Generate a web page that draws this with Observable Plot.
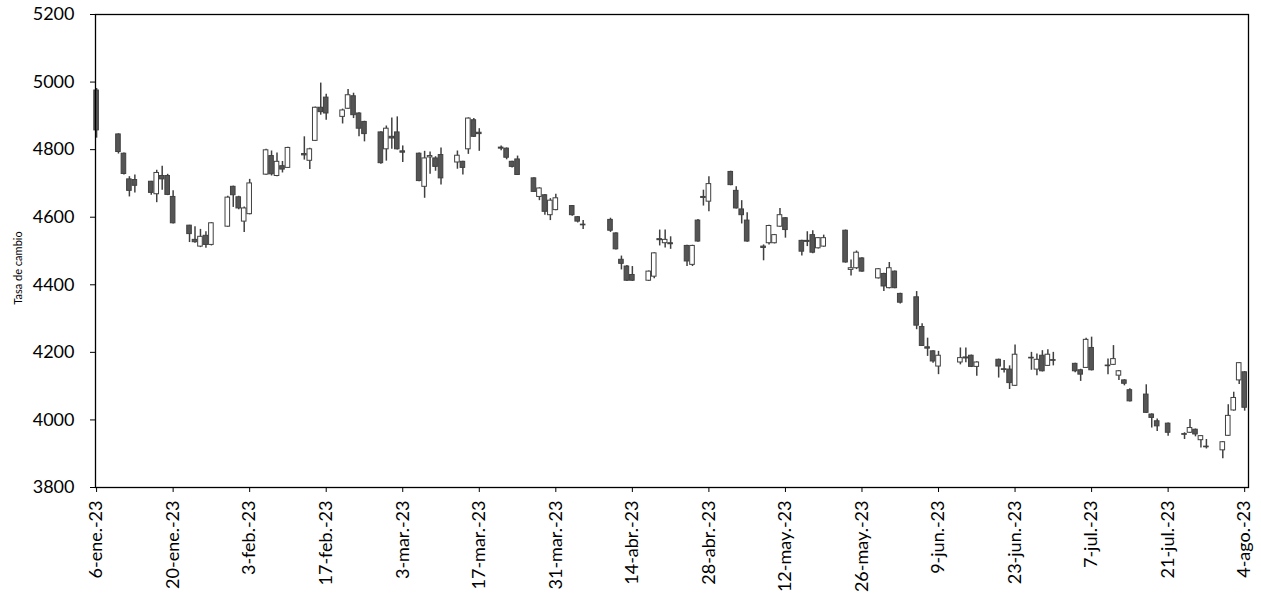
<!DOCTYPE html>
<html>
<head>
<meta charset="utf-8">
<script src="https://cdn.jsdelivr.net/npm/d3@7"></script>
<script src="https://cdn.jsdelivr.net/npm/@observablehq/plot@0.6"></script>
<style>
  html, body { margin: 0; padding: 0; background: #fff; }
  svg { display: block; }
</style>
</head>
<body>
<div id="chart"></div>
<script>
const dates = [
  "2023-01-06","2023-01-10","2023-01-11","2023-01-12","2023-01-13","2023-01-16","2023-01-17","2023-01-18","2023-01-19","2023-01-20",
  "2023-01-23","2023-01-24","2023-01-25","2023-01-26","2023-01-27","2023-01-30","2023-01-31",
  "2023-02-01","2023-02-02","2023-02-03","2023-02-06","2023-02-07","2023-02-08","2023-02-09","2023-02-10",
  "2023-02-13","2023-02-14","2023-02-15","2023-02-16","2023-02-17","2023-02-20","2023-02-21","2023-02-22","2023-02-23","2023-02-24",
  "2023-02-27","2023-02-28","2023-03-01","2023-03-02","2023-03-03","2023-03-06","2023-03-07","2023-03-08","2023-03-09","2023-03-10",
  "2023-03-13","2023-03-14","2023-03-15","2023-03-16","2023-03-17","2023-03-21","2023-03-22","2023-03-23","2023-03-24",
  "2023-03-27","2023-03-28","2023-03-29","2023-03-30","2023-03-31","2023-04-03","2023-04-04","2023-04-05",
  "2023-04-10","2023-04-11","2023-04-12","2023-04-13","2023-04-14","2023-04-17","2023-04-18","2023-04-19","2023-04-20","2023-04-21",
  "2023-04-24","2023-04-25","2023-04-26","2023-04-27","2023-04-28","2023-05-02","2023-05-03","2023-05-04","2023-05-05",
  "2023-05-08","2023-05-09","2023-05-10","2023-05-11","2023-05-12","2023-05-15","2023-05-16","2023-05-17","2023-05-18","2023-05-19",
  "2023-05-23","2023-05-24","2023-05-25","2023-05-26","2023-05-29","2023-05-30","2023-05-31","2023-06-01","2023-06-02",
  "2023-06-05","2023-06-06","2023-06-07","2023-06-08","2023-06-09","2023-06-13","2023-06-14","2023-06-15","2023-06-16",
  "2023-06-20","2023-06-21","2023-06-22","2023-06-23","2023-06-26","2023-06-27","2023-06-28","2023-06-29","2023-06-30",
  "2023-07-04","2023-07-05","2023-07-06","2023-07-07","2023-07-10","2023-07-11","2023-07-12","2023-07-13","2023-07-14",
  "2023-07-17","2023-07-18","2023-07-19","2023-07-21","2023-07-24","2023-07-25","2023-07-26","2023-07-27","2023-07-28",
  "2023-07-31","2023-08-01","2023-08-02","2023-08-03","2023-08-04"
];
const open = [
  4975,4845,4788,4712,4710,4705,4668,4722,4722,4660,
  4575,4533,4513,4545,4518,4572,4690,
  4659,4587,4609,4726,4781,4722,4751,4746,
  4787,4767,4826,4924,4954,4897,4921,4958,4907,4882,
  4851,4801,4838,4851,4795,4788,4690,4777,4774,4784,
  4762,4764,4801,4887,4850,4806,4803,4764,4771,
  4715,4660,4665,4606,4621,4633,4600,4578,
  4592,4552,4474,4454,4429,4412,4424,4535,4523,4523,
  4515,4459,4590,4657,4646,4734,4678,4623,4590,
  4513,4523,4523,4572,4597,4530,4530,4547,4508,4513,
  4560,4444,4449,4478,4419,4432,4390,4439,4373,
  4363,4275,4215,4203,4158,4170,4185,4190,4157,
  4178,4150,4149,4101,4184,4149,4190,4160,4177,
  4166,4147,4154,4213,4159,4163,4131,4117,4088,
  4075,4016,3996,3989,3958,3962,3971,3940,3921,
  3910,3953,4028,4117,4141
];
const high = [
  4981,4847,4790,4720,4725,4706,4739,4751,4727,4678,
  4576,4572,4564,4557,4584,4662,4692,
  4662,4630,4712,4801,4796,4790,4765,4807,
  4838,4804,4926,4997,4964,4920,4978,4967,4909,4884,
  4853,4870,4894,4897,4811,4790,4795,4793,4779,4805,
  4796,4766,4894,4892,4862,4811,4805,4766,4781,
  4717,4687,4667,4655,4668,4635,4602,4590,
  4597,4554,4485,4457,4454,4441,4495,4562,4562,4542,
  4517,4517,4593,4680,4720,4736,4690,4649,4613,
  4518,4576,4549,4626,4599,4532,4557,4560,4540,4547,
  4562,4473,4500,4480,4448,4434,4466,4441,4375,
  4380,4285,4242,4205,4203,4213,4213,4192,4172,
  4180,4176,4160,4222,4200,4195,4205,4208,4200,
  4168,4150,4242,4245,4180,4220,4146,4119,4092,
  4104,4018,4003,3991,3962,4001,3973,3954,3942,
  3936,4045,4082,4170,4143
];
const low = [
  4834,4787,4725,4660,4672,4665,4643,4680,4664,4580,
  4525,4523,4510,4508,4515,4570,4629,
  4622,4555,4607,4724,4722,4720,4731,4744,
  4769,4741,4824,4902,4887,4876,4919,4892,4838,4823,
  4757,4766,4801,4799,4762,4705,4656,4727,4736,4695,
  4742,4725,4786,4836,4795,4797,4770,4746,4724,
  4673,4649,4606,4590,4619,4603,4583,4564,
  4555,4503,4444,4410,4410,4410,4418,4515,4509,4505,
  4454,4454,4526,4633,4616,4693,4624,4580,4526,
  4471,4518,4521,4570,4538,4485,4513,4492,4506,4511,
  4464,4426,4445,4437,4417,4380,4388,4388,4343,
  4267,4217,4188,4168,4134,4163,4169,4155,4129,
  4124,4139,4090,4099,4147,4131,4142,4158,4160,
  4140,4114,4152,4145,4134,4161,4117,4101,4053,
  4019,3976,3966,3952,3942,3960,3950,3917,3914,
  3885,3951,4026,4105,4026
];
const close = [
  4857,4793,4728,4678,4693,4672,4731,4712,4666,4582,
  4550,4526,4542,4518,4582,4658,4665,
  4626,4626,4700,4798,4727,4764,4741,4805,
  4783,4801,4924,4911,4907,4916,4961,4902,4862,4846,
  4760,4862,4833,4801,4791,4707,4774,4781,4749,4715,
  4782,4746,4892,4838,4846,4803,4776,4749,4725,
  4675,4685,4616,4649,4656,4606,4587,4576,
  4560,4505,4462,4412,4412,4439,4493,4532,4533,4520,
  4469,4515,4528,4660,4698,4695,4626,4606,4528,
  4509,4574,4547,4606,4562,4498,4527,4495,4538,4538,
  4466,4449,4495,4439,4446,4395,4449,4390,4347,
  4279,4219,4211,4173,4190,4183,4182,4157,4170,
  4158,4148,4109,4193,4182,4178,4144,4193,4175,
  4144,4134,4237,4147,4161,4180,4144,4107,4055,
  4021,4006,3981,3962,3956,3976,3957,3952,3919,
  3934,4012,4065,4168,4036
];
const xTickDates = ["2023-01-06","2023-01-20","2023-02-03","2023-02-17","2023-03-03","2023-03-17","2023-03-31","2023-04-14",
  "2023-04-28","2023-05-12","2023-05-26","2023-06-09","2023-06-23","2023-07-07","2023-07-21","2023-08-04"];
const xTickLabels = ["6-ene.-23","20-ene.-23","3-feb.-23","17-feb.-23","3-mar.-23","17-mar.-23","31-mar.-23","14-abr.-23",
  "28-abr.-23","12-may.-23","26-may.-23","9-jun.-23","23-jun.-23","7-jul.-23","21-jul.-23","4-ago.-23"];
const yTicks = [3800,4000,4200,4400,4600,4800,5000,5200];
const yLabel = "Tasa de cambio";

const DAY = 864e5;
const data = dates.map((d, i) => ({date: new Date(d), open: open[i], high: high[i], low: low[i], close: close[i]}));
const tickDates = xTickDates.map(d => new Date(d));
const labelOf = new Map(tickDates.map((d, i) => [+d, xTickLabels[i]]));

const chart = Plot.plot({
  width: 1261,
  height: 595,
  marginLeft: 95,
  marginRight: 13,
  marginTop: 14,
  marginBottom: 108,
  style: {fontFamily: "Lato, 'Open Sans', sans-serif", fontSize: "18px", color: "#000", background: "#fff"},
  x: {
    type: "utc",
    domain: [new Date(+new Date("2023-01-06") - 0.2 * DAY), new Date(+new Date("2023-08-04") + 0.7 * DAY)],
    label: null
  },
  y: {
    domain: [3800, 5200],
    label: null
  },
  marks: [
    Plot.ruleX(data, {x: "date", y1: "low", y2: "high", stroke: "#404040", strokeWidth: 1.5}),
    Plot.rect(data, {
      x1: d => new Date(+d.date - 0.42 * DAY),
      x2: d => new Date(+d.date + 0.42 * DAY),
      y1: "open",
      y2: "close",
      fill: d => d.close >= d.open ? "#ffffff" : "#555555",
      stroke: "#404040",
      strokeWidth: 1
    }),
    Plot.frame({stroke: "#000", strokeWidth: 1.3}),
    Plot.axisX({ticks: tickDates, tickFormat: d => labelOf.get(+d), tickRotate: -90, tickSize: 5, tickPadding: 8, label: null, fontSize: 18}),
    Plot.axisY({ticks: yTicks, tickFormat: d => String(d), tickSize: 5, tickPadding: 16, label: null, fontSize: 18}),
    Plot.text([yLabel], {frameAnchor: "left", textAnchor: "middle", text: d => d, rotate: -90, dx: -77, dy: 17, fontSize: 11, fill: "#000"})
  ]
});
document.getElementById("chart").appendChild(chart);
</script>
</body>
</html>
